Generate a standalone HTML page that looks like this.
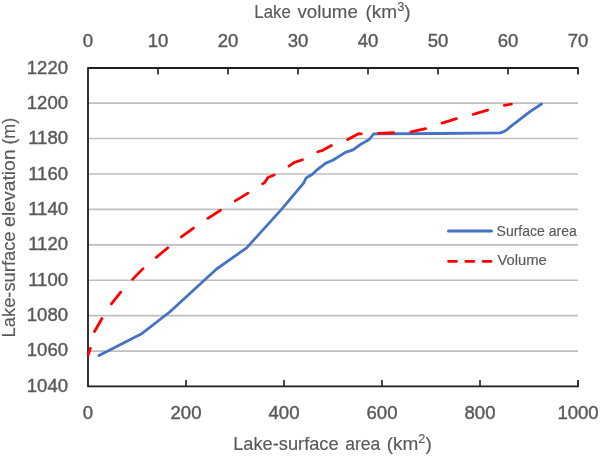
<!DOCTYPE html>
<html><head><meta charset="utf-8"><style>
html,body{margin:0;padding:0;background:#fff;}
body{width:600px;height:456px;overflow:hidden;}
svg{display:block;will-change:transform;}
text{font-family:"Liberation Sans", sans-serif;font-size:18px;fill:#595959;stroke:#595959;stroke-width:0.4px;}
</style></head><body>
<svg width="600" height="456" viewBox="0 0 600 456">
<rect width="600" height="456" fill="#fff"/>
<line x1="88.0" y1="351.09" x2="578.0" y2="351.09" stroke="#bfbfbf" stroke-width="1.6"/>
<line x1="88.0" y1="315.67" x2="578.0" y2="315.67" stroke="#bfbfbf" stroke-width="1.6"/>
<line x1="88.0" y1="280.25" x2="578.0" y2="280.25" stroke="#bfbfbf" stroke-width="1.6"/>
<line x1="88.0" y1="244.83" x2="578.0" y2="244.83" stroke="#bfbfbf" stroke-width="1.6"/>
<line x1="88.0" y1="209.41" x2="578.0" y2="209.41" stroke="#bfbfbf" stroke-width="1.6"/>
<line x1="88.0" y1="173.99" x2="578.0" y2="173.99" stroke="#bfbfbf" stroke-width="1.6"/>
<line x1="88.0" y1="138.57" x2="578.0" y2="138.57" stroke="#bfbfbf" stroke-width="1.6"/>
<line x1="88.0" y1="103.15" x2="578.0" y2="103.15" stroke="#bfbfbf" stroke-width="1.6"/>
<path d="M578.0 74.5 L578.0 68.0 L88.0 68.0 L88.0 386.4 L578.0 386.4 L578.0 379.9" fill="none" stroke="#1e1e1e" stroke-width="1.8" stroke-linejoin="round"/>
<line x1="158.00" y1="68.0" x2="158.00" y2="74.5" stroke="#1e1e1e" stroke-width="1.6"/>
<line x1="228.00" y1="68.0" x2="228.00" y2="74.5" stroke="#1e1e1e" stroke-width="1.6"/>
<line x1="298.00" y1="68.0" x2="298.00" y2="74.5" stroke="#1e1e1e" stroke-width="1.6"/>
<line x1="368.00" y1="68.0" x2="368.00" y2="74.5" stroke="#1e1e1e" stroke-width="1.6"/>
<line x1="438.00" y1="68.0" x2="438.00" y2="74.5" stroke="#1e1e1e" stroke-width="1.6"/>
<line x1="508.00" y1="68.0" x2="508.00" y2="74.5" stroke="#1e1e1e" stroke-width="1.6"/>
<line x1="186.00" y1="386.4" x2="186.00" y2="379.9" stroke="#1e1e1e" stroke-width="1.6"/>
<line x1="284.00" y1="386.4" x2="284.00" y2="379.9" stroke="#1e1e1e" stroke-width="1.6"/>
<line x1="382.00" y1="386.4" x2="382.00" y2="379.9" stroke="#1e1e1e" stroke-width="1.6"/>
<line x1="480.00" y1="386.4" x2="480.00" y2="379.9" stroke="#1e1e1e" stroke-width="1.6"/>
<text transform="translate(68.00 391.80) scale(1.03 1)" text-anchor="end">1040</text>
<text transform="translate(68.00 356.47) scale(1.03 1)" text-anchor="end">1060</text>
<text transform="translate(68.00 321.13) scale(1.03 1)" text-anchor="end">1080</text>
<text transform="translate(68.00 285.80) scale(1.03 1)" text-anchor="end">1100</text>
<text transform="translate(68.00 250.47) scale(1.03 1)" text-anchor="end">1120</text>
<text transform="translate(68.00 215.13) scale(1.03 1)" text-anchor="end">1140</text>
<text transform="translate(68.00 179.80) scale(1.03 1)" text-anchor="end">1160</text>
<text transform="translate(68.00 144.47) scale(1.03 1)" text-anchor="end">1180</text>
<text transform="translate(68.00 109.13) scale(1.03 1)" text-anchor="end">1200</text>
<text transform="translate(68.00 73.80) scale(1.03 1)" text-anchor="end">1220</text>
<text transform="translate(88.00 46.70) scale(1.03 1)" text-anchor="middle">0</text>
<text transform="translate(158.00 46.70) scale(1.03 1)" text-anchor="middle">10</text>
<text transform="translate(228.00 46.70) scale(1.03 1)" text-anchor="middle">20</text>
<text transform="translate(298.00 46.70) scale(1.03 1)" text-anchor="middle">30</text>
<text transform="translate(368.00 46.70) scale(1.03 1)" text-anchor="middle">40</text>
<text transform="translate(438.00 46.70) scale(1.03 1)" text-anchor="middle">50</text>
<text transform="translate(508.00 46.70) scale(1.03 1)" text-anchor="middle">60</text>
<text transform="translate(578.00 46.70) scale(1.03 1)" text-anchor="middle">70</text>
<text transform="translate(88.00 418.60) scale(1.03 1)" text-anchor="middle">0</text>
<text transform="translate(186.00 418.60) scale(1.03 1)" text-anchor="middle">200</text>
<text transform="translate(284.00 418.60) scale(1.03 1)" text-anchor="middle">400</text>
<text transform="translate(382.00 418.60) scale(1.03 1)" text-anchor="middle">600</text>
<text transform="translate(480.00 418.60) scale(1.03 1)" text-anchor="middle">800</text>
<text transform="translate(578.00 418.60) scale(1.03 1)" text-anchor="middle">1000</text>
<text transform="translate(254.29 18.00) scale(0.9103 1)" style="font-size:18.5px;stroke-width:0.15px">Lake</text>
<text transform="translate(297.50 18.00) scale(1.0127 1)" style="font-size:18.5px;stroke-width:0.15px">volume</text>
<text transform="translate(365.47 18.00) scale(1.0286 1)" style="font-size:18.5px;stroke-width:0.15px">(km<tspan dy="-7" style="font-size:12.5px">3</tspan><tspan dy="7">)</tspan></text>
<text transform="translate(233.21 450.10) scale(0.9858 1)" style="font-size:18.5px;stroke-width:0.15px">Lake-surface</text>
<text transform="translate(345.30 450.10) scale(0.9459 1)" style="font-size:18.5px;stroke-width:0.15px">area</text>
<text transform="translate(386.67 450.10) scale(1.0262 1)" style="font-size:18.5px;stroke-width:0.15px">(km<tspan dy="-7" style="font-size:12.5px">2</tspan><tspan dy="7">)</tspan></text>
<text transform="translate(14.90 337.39) rotate(-90) scale(0.9915 1)" style="font-size:18.5px;stroke-width:0.15px">Lake-surface</text>
<text transform="translate(14.90 226.90) rotate(-90) scale(1.0479 1)" style="font-size:18.5px;stroke-width:0.15px">elevation</text>
<text transform="translate(14.90 144.57) rotate(-90) scale(0.9654 1)" style="font-size:18.5px;stroke-width:0.15px">(m)</text>
<path d="M99.0 355.6 L142.1 333.4 L169.7 312.0 L216.6 269.0 L246.6 247.9 L281.3 209.6 L303.6 183.2 L306.2 177.9 L308.6 176.5 L312.1 174.6 L316.4 170.4 L325.8 163.1 L332.8 160.2 L345.4 152.4 L353.0 149.9 L360.2 144.6 L369.2 139.5 L373.6 134.0 L376.0 133.9 L440.0 133.5 L500.0 132.9 L504.0 131.6 L507.0 129.6 L510.5 126.6 L520.0 119.3 L530.0 111.7 L541.6 104.0" fill="none" stroke="#4472c4" stroke-width="2.8" stroke-linejoin="round" stroke-linecap="round"/>
<path d="M88.2 354.7 L90.6 347.6 L94.0 332.5 L102.2 318.0 L110.6 305.0 L121.1 291.6 L131.5 280.4 L143.3 268.3 L155.1 258.3 L168.4 247.3 L180.4 237.7 L194.0 227.6 L206.4 219.3 L221.3 209.7 L233.6 201.9 L248.7 192.7 L261.5 184.2 L264.5 182.8 L268.0 177.5 L270.5 176.5 L274.5 174.8 L287.7 167.0 L294.0 162.6 L303.3 159.4 L316.7 152.1 L322.7 150.3 L332.4 145.0 L346.7 140.0 L358.6 133.7 L362.3 133.9 L377.4 133.4 L395.0 132.7 L409.9 132.1 L427.0 128.3 L440.7 123.5 L457.7 118.3 L472.1 114.7 L488.8 109.8 L503.0 105.5 L511.4 104.1" fill="none" stroke="#ff0000" stroke-width="2.8" stroke-linejoin="round" stroke-linecap="round" stroke-dasharray="15.0 17.39" stroke-dashoffset="8.3"/>
<line x1="448.5" y1="231" x2="491.5" y2="231" stroke="#4472c4" stroke-width="3" stroke-linecap="round"/>
<line x1="448.5" y1="261.3" x2="491.5" y2="261.3" stroke="#ff0000" stroke-width="2.8" stroke-linecap="round" stroke-dasharray="8 9.3"/>
<text transform="translate(496.60 235.70) scale(0.915 1)" text-anchor="start" style="font-size:15.3px;stroke-width:0.15px">Surface area</text>
<text transform="translate(497.40 265.30) scale(0.97 1)" text-anchor="start" style="font-size:15.3px;stroke-width:0.15px">Volume</text>
</svg>
</body></html>
